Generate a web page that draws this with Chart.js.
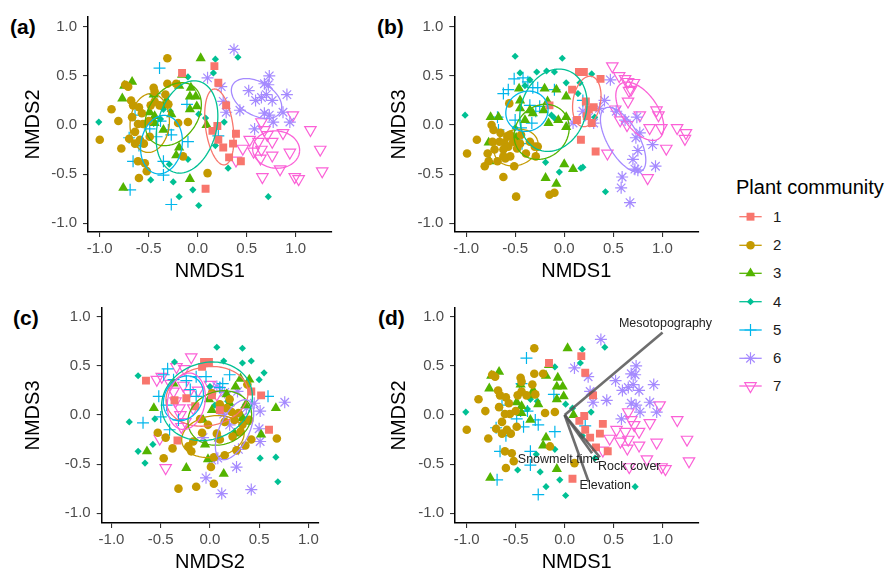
<!DOCTYPE html>
<html>
<head>
<meta charset="utf-8">
<script src="https://cdn.jsdelivr.net/npm/chart.js@4.4.0/dist/chart.umd.min.js"></script>
<style>
  body { margin: 0; width: 885px; height: 573px; position: relative; overflow: hidden; background: #fff;
         font-family: "Liberation Sans", Arial, sans-serif; }
  canvas { position: absolute; }
  .tag { position: absolute; font-weight: bold; font-size: 21px; line-height: 1; color: #000; }
  .ltitle { position: absolute; left: 736px; top: 177px; font-size: 20px; line-height: 1; color: #000; white-space: nowrap; }
  .lab { position: absolute; left: 773px; font-size: 15px; line-height: 1; color: #1a1a1a; }
</style>
</head>
<body>
<div class="tag" style="left:10px;top:16px">(a)</div>
<div class="tag" style="left:377px;top:16px">(b)</div>
<div class="tag" style="left:13px;top:307px">(c)</div>
<div class="tag" style="left:378px;top:307px">(d)</div>

<canvas id="pa" width="340" height="292" style="left:0;top:0"></canvas>
<canvas id="pb" width="340" height="292" style="left:366px;top:0"></canvas>
<canvas id="pc" width="326" height="292" style="left:0;top:291px"></canvas>
<canvas id="pd" width="362" height="292" style="left:366px;top:291px"></canvas>

<div class="ltitle">Plant community</div>
<canvas id="keys" width="32" height="210" style="left:735px;top:200px"></canvas>
<div id="labs"></div>

<script>
const groups = ["1", "2", "3", "4", "5", "6", "7"];
const tickVals = [-1, -0.5, 0, 0.5, 1];

// NMDS1 x NMDS2 (panels a and d)
const a1 = [[0.17,0.60],[0.21,0.43],[0.29,0.20],[0.20,-0.01],[0.15,-0.06],[0.21,-0.15],[0.26,-0.23],[0.36,-0.19],[0.39,-0.09],[0.32,-0.33],[0.44,-0.37],[0.08,-0.65],[-0.16,0.53]];
const a2 = [[-0.31,0.68],[-0.74,0.41],[-0.71,0.39],[-0.68,0.25],[-0.88,0.16],[-0.81,0.04],[-1.00,-0.15],[-0.78,-0.24],[-0.66,0.20],[-0.60,0.18],[-0.57,0.12],[-0.67,0.08],[-0.61,0.01],[-0.64,-0.07],[-0.70,-0.14],[-0.56,0.01],[-0.50,0.04],[-0.48,0.20],[-0.45,0.38],[-0.44,0.34],[-0.33,0.31],[-0.31,0.42],[-0.22,0.42],[-0.30,0.21],[-0.20,0.02],[-0.10,0.03],[-0.49,-0.12],[-0.55,-0.19],[-0.59,-0.15],[-0.64,-0.19],[-0.61,-0.37],[-0.54,-0.39],[-0.60,-0.54],[-0.52,-0.47],[-0.15,-0.32],[0.10,-0.49],[-0.44,0.24],[-0.39,0.20]];
const a3 = [[0.03,0.68],[-0.16,0.51],[-0.67,0.44],[-0.75,0.40],[-0.77,0.27],[-0.45,0.31],[-0.32,0.25],[-0.34,0.20],[-0.49,0.13],[-0.44,0.09],[-0.44,0.02],[-0.35,-0.05],[-0.27,0.11],[-0.19,0.40],[-0.07,0.38],[-0.08,0.29],[-0.02,0.29],[-0.08,0.16],[-0.01,0.19],[0.09,0.0],[-0.19,-0.23],[-0.22,-0.31],[-0.08,-0.55],[-0.76,-0.64]];
const a4 = [[0.18,0.67],[0.41,0.69],[0.16,0.53],[-0.10,0.49],[-1.01,0.03],[-0.46,0.31],[-0.35,0.16],[-0.28,0.14],[-0.38,0.06],[0.01,0.11],[0.08,0.07],[0.27,0.03],[-0.48,-0.56],[-0.29,-0.40],[-0.25,-0.58],[-0.10,-0.35],[-0.05,-0.66],[-0.19,-0.73],[0.01,-0.82],[0.72,-0.73],[0.18,-0.21],[0.31,-0.44]];
const a5 = [[-0.39,0.58],[-0.44,0.32],[-0.11,0.21],[-0.64,0.10],[-0.45,0.04],[-0.38,0.04],[-0.42,-0.12],[-0.49,-0.04],[-0.30,-0.05],[-0.27,-0.10],[-0.10,-0.17],[-0.60,-0.21],[-0.70,-0.13],[-0.66,-0.37],[-0.69,-0.66],[-0.35,-0.37],[-0.35,-0.51],[-0.27,-0.81],[0.21,-0.11]];
const a6 = [[0.37,0.77],[0.10,0.48],[0.24,0.39],[0.26,0.24],[0.29,0.13],[0.43,0.15],[0.52,0.35],[0.59,0.25],[0.68,0.42],[0.73,0.50],[0.70,0.31],[0.76,0.25],[0.68,0.12],[0.73,0.10],[0.77,0.03],[0.58,-0.04],[0.91,0.31],[0.87,0.13],[0.94,0.03],[0.72,0.41],[0.65,0.28]];
const a7 = [[0.97,0.10],[1.15,-0.05],[0.65,0.03],[0.68,-0.05],[0.53,-0.15],[0.62,-0.17],[0.76,-0.17],[0.46,-0.24],[0.57,-0.27],[0.65,-0.25],[0.64,-0.34],[0.76,-0.31],[0.87,-0.08],[0.94,-0.28],[1.25,-0.25],[0.84,-0.45],[0.66,-0.53],[0.99,-0.53],[1.03,-0.55],[1.27,-0.47],[0.39,-0.36],[0.71,-0.10]];

// NMDS1 x NMDS3 (panel b)
const b1 = [[0.15,0.54],[0.20,0.54],[0.37,0.47],[0.08,0.36],[0.22,0.24],[0.25,0.16],[0.23,0.09],[0.28,0.02],[0.13,0.05],[0.17,-0.15],[0.32,-0.27],[-0.15,0.20],[0.30,0.18]];
const b2 = [[-0.99,-0.29],[-0.89,-0.15],[-0.81,-0.42],[-0.78,-0.29],[-0.74,0.0],[-0.72,-0.05],[-0.66,-0.17],[-0.65,-0.08],[-0.61,-0.18],[-0.57,-0.22],[-0.60,-0.34],[-0.55,-0.32],[-0.51,-0.42],[-0.62,-0.53],[-0.49,-0.73],[-0.15,-0.71],[-0.10,-0.69],[-0.30,-0.22],[-0.29,-0.32],[-0.56,0.22],[-0.52,-0.17],[-0.45,-0.19],[-0.44,-0.10],[-0.71,-0.25],[-0.68,-0.37],[-0.39,-0.29],[-0.77,-0.37],[-0.62,-0.25],[-0.58,-0.12],[-0.35,-0.17],[-0.27,-0.22],[-0.62,-0.32],[-0.73,-0.17],[-0.55,-0.10],[-0.48,-0.24]];
const b3 = [[-0.75,0.08],[-0.67,0.08],[-0.46,0.37],[-0.45,0.25],[-0.45,0.17],[-0.35,0.15],[-0.32,0.12],[-0.20,0.37],[-0.08,0.36],[0.02,0.29],[-0.17,0.24],[-0.21,0.15],[-0.06,0.05],[0.02,0.08],[0.02,-0.02],[-0.49,-0.13],[-0.77,-0.18],[-0.76,-0.37],[-0.19,-0.54],[-0.08,-0.60],[0.0,-0.40],[0.09,-0.45],[-0.16,0.02],[-0.40,0.05]];
const b4 = [[-0.50,0.70],[-0.02,0.68],[-0.45,0.53],[-0.35,0.46],[-0.28,0.54],[-0.18,0.55],[-0.10,0.54],[0.02,0.43],[0.28,0.52],[0.16,0.43],[-1.01,0.10],[-0.13,0.10],[-0.10,0.07],[-0.50,-0.03],[-0.19,-0.38],[-0.05,-0.48],[0.17,-0.44],[0.19,-0.43],[0.31,0.08],[0.42,-0.68],[0.14,0.32],[-0.40,0.40]];
const b5 = [[-0.51,0.47],[-0.42,0.48],[-0.37,0.44],[-0.62,0.32],[-0.57,0.36],[-0.32,0.38],[-0.27,0.38],[-0.10,0.36],[-0.68,0.08],[-0.67,-0.05],[-0.35,0.20],[-0.25,0.19],[-0.44,-0.03],[-0.33,0.02],[-0.47,-0.20],[-0.43,-0.19],[0.19,0.25],[-0.50,0.05],[-0.29,0.14]];
const b6 = [[0.47,0.46],[0.41,0.25],[0.19,0.14],[0.09,0.02],[0.30,0.02],[0.36,0.17],[0.53,0.14],[0.62,0.05],[0.74,0.08],[0.73,-0.13],[0.77,-0.08],[0.75,-0.26],[0.70,-0.35],[0.75,-0.46],[0.90,-0.20],[0.93,-0.42],[0.59,-0.53],[0.58,-0.64],[0.67,-0.79],[0.72,-0.45],[0.25,0.08]];
const b7 = [[0.49,0.60],[0.56,0.50],[0.62,0.47],[0.65,0.44],[0.71,0.43],[0.68,0.36],[0.65,0.24],[0.94,0.15],[0.96,0.10],[0.77,0.10],[0.57,0.05],[0.64,0.0],[0.87,-0.03],[0.99,-0.03],[1.15,-0.03],[1.24,-0.08],[1.23,-0.14],[1.04,-0.24],[0.85,-0.54],[0.44,-0.29],[0.66,0.35],[0.52,0.16]];

// NMDS2 x NMDS3 (panel c)
const c1 = [[-0.65,0.35],[-0.36,0.15],[-0.24,0.17],[-0.15,0.09],[-0.06,0.54],[-0.01,0.54],[-0.08,0.49],[0.42,0.24],[0.52,0.20],[0.60,-0.15],[-0.33,-0.26],[0.02,0.20],[0.10,0.05]];
const c2 = [[-0.53,-0.18],[-0.45,-0.23],[-0.47,-0.44],[-0.38,-0.34],[-0.32,-0.75],[-0.14,-0.73],[0.04,-0.70],[0.01,-0.53],[0.04,-0.43],[0.15,-0.41],[0.02,0.22],[0.10,0.11],[0.17,0.07],[0.22,0.03],[0.29,0.02],[0.15,-0.07],[0.07,-0.19],[0.10,-0.25],[0.23,-0.22],[0.31,-0.17],[0.38,0.31],[0.42,-0.25],[0.68,-0.24],[-0.17,-0.27],[-0.22,-0.32],[-0.19,-0.37],[-0.08,-0.18],[-0.02,-0.10],[0.25,-0.05],[0.33,-0.10],[0.36,-0.31],[0.27,-0.36],[-0.10,-0.04],[0.20,0.16],[0.40,-0.05]];
const c3 = [[-0.57,0.07],[-0.64,-0.37],[-0.24,-0.54],[0.14,-0.60],[-0.02,-0.45],[0.09,-0.24],[-0.07,-0.05],[-0.01,0.16],[0.31,0.37],[0.40,0.36],[0.26,0.29],[0.17,0.21],[0.36,0.10],[0.33,-0.03],[0.52,-0.20],[0.67,0.07],[-0.37,0.32],[0.25,-0.19],[0.37,-0.07],[0.02,0.05],[0.20,0.12],[-0.05,-0.30]];
const c4 = [[-0.73,0.40],[-0.82,-0.07],[-0.73,-0.37],[-0.66,-0.49],[-0.58,-0.30],[-0.56,-0.04],[-0.36,0.54],[0.07,0.69],[0.33,0.68],[0.14,0.55],[0.33,0.53],[0.42,0.55],[0.55,0.43],[0.50,0.36],[0.51,-0.44],[0.67,-0.43],[0.69,-0.68],[0.0,0.29],[0.05,0.10],[0.18,0.14]];
const c5 = [[-0.43,0.47],[-0.47,0.41],[-0.37,0.36],[-0.24,0.35],[-0.14,0.39],[-0.04,0.39],[0.13,0.32],[0.20,0.41],[-0.52,0.19],[-0.44,0.10],[-0.14,0.19],[-0.68,-0.08],[-0.41,-0.15],[-0.32,-0.05],[0.59,0.19],[0.10,0.28],[-0.20,0.26],[-0.50,-0.02]];
const c6 = [[0.76,0.13],[0.51,0.04],[0.15,0.23],[0.28,0.24],[0.50,-0.14],[0.51,-0.27],[-0.07,-0.23],[-0.04,-0.64],[0.12,-0.80],[0.42,-0.76],[0.27,-0.53],[0.02,-0.46],[0.08,-0.44],[0.29,-0.35],[0.20,-0.10],[0.14,0.01],[0.37,0.07],[0.07,0.29],[0.45,0.12],[0.33,-0.02]];
const c7 = [[-0.19,0.59],[-0.34,0.49],[-0.26,0.47],[-0.54,0.36],[-0.49,0.39],[-0.45,-0.54],[-0.51,-0.24],[-0.35,0.14],[-0.31,0.07],[-0.30,0.0],[-0.25,-0.07],[-0.17,0.07],[-0.37,0.24],[0.0,0.31],[-0.27,0.30],[-0.22,0.22],[-0.40,0.32],[-0.29,-0.12],[-0.12,0.25],[0.07,0.21]];

// group ellipses: centre x, centre y, semi-major, semi-minor, angle (deg)
const ellA = [[0.22,-0.02,0.39,0.14,98],[-0.49,0.02,0.30,0.20,85],[-0.25,0.11,0.35,0.25,55],[-0.11,-0.02,0.48,0.30,75],[-0.37,-0.20,0.30,0.21,80],[0.60,0.27,0.28,0.17,-30],[0.80,-0.25,0.24,0.19,-5]];
const ellB = [[0.23,0.24,0.26,0.14,80],[-0.49,-0.23,0.23,0.18,20],[-0.23,-0.07,0.30,0.26,45],[-0.11,0.15,0.43,0.33,70],[-0.38,0.14,0.22,0.20,30],[0.60,-0.15,0.37,0.16,-60],[0.77,0.14,0.34,0.18,-55]];
const ellC = [[-0.03,0.19,0.42,0.30,10],[0.03,-0.22,0.32,0.21,10],[0.10,-0.03,0.33,0.27,20],[-0.03,0.14,0.47,0.39,20],[-0.27,0.17,0.24,0.19,60],[0.25,-0.15,0.33,0.15,65],[-0.24,0.14,0.29,0.19,80]];

// environmental vectors (panel d)
const vecNames = ["Mesotopography", "Snowmelt time", "Rock cover", "Elevation"];
const vecX = [1.0, 0.28, 0.36, 0.245];
const vecY = [0.84, -0.39, -0.43, -0.68];
const vecLabX = [1.03, -0.06, 0.66, 0.415];
const vecLabY = [0.93, -0.45, -0.52, -0.72];

const colors = ["#F8766D", "#C49A00", "#53B400", "#00C094", "#00B6EB", "#A58AFF", "#FB61D7"];
const marks = [
  { style: "rect", r: 5.6, fill: true },
  { style: "circle", r: 4.3, fill: true },
  { style: "triangle", r: 5.9, fill: true },
  { style: "rectRot", r: 3.6, fill: true },
  { style: "cross", r: 6, fill: false },
  { style: "star", r: 6, fill: false },
  { style: "triangle", r: 6.6, fill: false, rot: 180 }
];

Chart.defaults.font.family = '"Liberation Sans", Arial, sans-serif';

function pointSets(list) {
  return list.map((pts, i) => ({
    label: groups[i],
    data: pts.map(p => ({ x: p[0], y: p[1] })),
    pointStyle: marks[i].style,
    pointRadius: marks[i].r,
    pointHoverRadius: marks[i].r,
    pointRotation: marks[i].rot || 0,
    backgroundColor: marks[i].fill ? colors[i] : "rgba(0,0,0,0)",
    borderColor: colors[i],
    borderWidth: marks[i].fill ? 0 : 1.2,
    showLine: false
  }));
}

function axis(min, max, title, size, pos) {
  const left = pos === "left";
  return {
    type: "linear", position: pos, min: min, max: max,
    afterBuildTicks: s => { s.ticks = tickVals.map(v => ({ value: v })); },
    afterFit: s => { if (left) s.width = size; else s.height = size; },
    ticks: { callback: v => Number(v).toFixed(1), color: "#4d4d4d", font: { size: 15 },
             padding: left ? 6 : 3, autoSkip: false, maxRotation: 0 },
    grid: { display: true, drawOnChartArea: false, drawTicks: true, tickLength: 5, color: "#333", lineWidth: 1.1 },
    border: { display: true, color: "#000", width: 1.5 },
    title: { display: true, text: title, color: "#000", font: { size: 20 },
             padding: left ? { top: 21 } : { bottom: 8.5 } }
  };
}

const ellipsePlugin = {
  id: "ellipses",
  afterDatasetsDraw(chart, args, opts) {
    if (!opts.list) return;
    const { ctx, chartArea: ca } = chart;
    const sx = chart.scales.x, sy = chart.scales.y;
    ctx.save();
    ctx.beginPath();
    ctx.rect(ca.left, ca.top, ca.right - ca.left, ca.bottom - ca.top);
    ctx.clip();
    opts.list.forEach((e, i) => {
      const [cx, cy, a, b, deg] = e;
      const t = deg * Math.PI / 180;
      ctx.beginPath();
      for (let k = 0; k <= 120; k++) {
        const u = k / 120 * 2 * Math.PI;
        const dx = a * Math.cos(u), dy = b * Math.sin(u);
        const px = sx.getPixelForValue(cx + dx * Math.cos(t) - dy * Math.sin(t));
        const py = sy.getPixelForValue(cy + dx * Math.sin(t) + dy * Math.cos(t));
        if (k) ctx.lineTo(px, py); else ctx.moveTo(px, py);
      }
      ctx.strokeStyle = colors[i];
      ctx.lineWidth = 1.3;
      ctx.stroke();
    });
    ctx.restore();
  }
};

const vecLabelPlugin = {
  id: "veclabels",
  afterDatasetsDraw(chart, args, opts) {
    if (!opts.show) return;
    const { ctx } = chart;
    const sx = chart.scales.x, sy = chart.scales.y;
    ctx.save();
    ctx.font = '12.5px "Liberation Sans", Arial, sans-serif';
    ctx.fillStyle = "#222";
    ctx.textAlign = "center";
    ctx.textBaseline = "middle";
    vecNames.forEach((n, i) => {
      ctx.fillText(n, sx.getPixelForValue(vecLabX[i]), sy.getPixelForValue(vecLabY[i]));
    });
    ctx.restore();
  }
};

function makePanel(id, sets, xr, yr, xTitle, yTitle, yw, padR, ell, vectors) {
  let datasets = pointSets(sets);
  if (vectors) {
    const vs = vecNames.map((n, i) => ({
      label: n,
      data: [{ x: 0, y: 0 }, { x: vecX[i], y: vecY[i] }],
      showLine: true,
      borderColor: "rgba(85,85,85,0.85)",
      borderWidth: 2.6,
      pointRadius: 0,
      order: -1
    }));
    datasets = datasets.concat(vs);
  }
  new Chart(document.getElementById(id), {
    type: "scatter",
    data: { datasets: datasets },
    options: {
      responsive: false,
      animation: false,
      devicePixelRatio: 1,
      layout: { padding: { left: 0, top: 17, right: padR, bottom: 0 } },
      scales: {
        x: axis(xr[0], xr[1], xTitle, 60, "bottom"),
        y: axis(yr[0], yr[1], yTitle, yw, "left")
      },
      plugins: {
        legend: { display: false },
        tooltip: { enabled: false },
        ellipses: { list: ell },
        veclabels: { show: !!vectors }
      }
    },
    plugins: [ellipsePlugin, vecLabelPlugin]
  });
}

makePanel("pa", [a1, a2, a3, a4, a5, a6, a7], [-1.12, 1.365], [-1.09, 1.10], "NMDS1", "NMDS2", 88, 8.5, ellA, false);
makePanel("pb", [b1, b2, b3, b4, b5, b6, b7], [-1.12, 1.365], [-1.09, 1.10], "NMDS1", "NMDS3", 88.3, 7.7, ellB, false);
makePanel("pc", [c1, c2, c3, c4, c5, c6, c7], [-1.10, 1.10], [-1.10, 1.09], "NMDS2", "NMDS3", 101.7, 7.7, ellC, false);
makePanel("pd", [a1, a2, a3, a4, a5, a6, a7], [-1.12, 1.365], [-1.10, 1.09], "NMDS1", "NMDS2", 89, 29.7, null, true);

// legend keys: ellipse line + point symbol
const keyY = [216.7, 245.3, 273.3, 301.7, 330, 358.3, 386];
const kc = document.getElementById("keys").getContext("2d");
const labs = document.getElementById("labs");
groups.forEach((g, i) => {
  const y = keyY[i] - 200;
  kc.strokeStyle = colors[i];
  kc.lineWidth = 1.3;
  kc.beginPath(); kc.moveTo(4.3, y); kc.lineTo(26.7, y); kc.stroke();
  kc.fillStyle = marks[i].fill ? colors[i] : "rgba(0,0,0,0)";
  kc.strokeStyle = colors[i];
  kc.lineWidth = marks[i].fill ? 0 : 1.2;
  Chart.helpers.drawPoint(kc, {
    pointStyle: marks[i].style, radius: marks[i].r, rotation: marks[i].rot || 0,
    borderWidth: marks[i].fill ? 0 : 1.2
  }, 15.5, y);
  const d = document.createElement("div");
  d.className = "lab";
  d.style.top = (keyY[i] - 8) + "px";
  d.textContent = g;
  labs.appendChild(d);
});
</script>
</body>
</html>
